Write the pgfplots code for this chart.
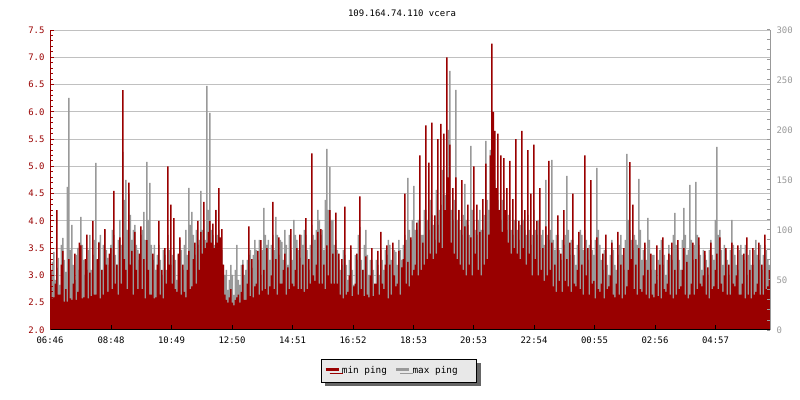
\documentclass[border=0pt]{standalone}
\usepackage{fontspec}
\setmainfont{DejaVu Sans Mono}
\usepackage{pgfplots}
\usepackage{pgfplotstable}
\pgfplotsset{compat=1.18}
\usetikzlibrary{shadows}
\definecolor{minred}{HTML}{990000}
\definecolor{maxgray}{HTML}{999999}
\definecolor{gridgray}{HTML}{C0C0C0}
\definecolor{leggray}{HTML}{E8E8E8}
\definecolor{shadowgray}{HTML}{666666}
\pgfplotstableread{
x min max
0 3.10 55
3 2.58 68
6 2.60 78
9 2.85 50
12 4.20 62
15 2.65 72
18 2.65 45
21 3.20 85
24 3.45 92
27 2.52 70
30 2.75 58
33 2.52 143
36 3.30 232
39 2.58 80
42 2.55 105
45 2.85 65
48 3.40 50
51 2.55 75
54 2.70 82
57 3.60 60
60 3.55 113
63 2.58 85
66 2.60 70
69 3.30 55
72 3.75 60
75 2.58 80
78 3.05 95
81 2.62 60
84 4.00 75
87 2.65 90
90 2.65 167
93 3.30 70
96 3.60 88
99 2.58 95
102 3.10 60
105 2.65 85
108 3.85 100
111 3.20 80
114 2.70 72
117 3.40 65
120 3.50 85
123 2.75 100
126 4.55 95
129 2.85 75
132 3.20 65
135 2.65 90
138 3.70 110
141 2.85 85
144 6.40 178
147 3.30 130
150 3.10 150
153 2.75 100
156 4.70 137
159 3.20 115
162 3.45 90
165 2.65 100
168 3.80 105
171 3.10 85
174 2.75 80
177 3.40 70
180 3.90 95
183 2.75 100
186 3.30 118
189 2.58 90
192 3.65 168
195 3.10 110
198 2.65 147
201 2.65 85
204 3.40 70
207 2.58 85
210 2.60 60
213 3.20 75
216 4.00 85
219 2.65 70
222 3.10 55
225 2.58 80
228 3.50 75
231 2.85 60
234 5.00 95
237 3.20 80
240 4.30 65
243 2.85 75
246 4.05 80
249 2.75 70
252 2.70 50
255 3.40 75
258 3.70 90
261 2.65 80
264 3.20 60
267 2.70 85
270 2.60 100
273 3.10 75
276 3.45 142
279 2.75 105
282 2.80 118
285 3.30 95
288 3.60 75
291 2.85 100
294 4.00 85
297 3.10 90
300 3.80 139
303 3.40 100
306 4.35 110
309 3.50 90
312 3.60 244
315 3.80 120
318 4.00 217
321 3.60 100
324 3.95 95
327 3.50 85
330 4.20 120
333 3.60 95
336 4.60 100
339 3.70 85
342 3.85 80
345 3.20 65
348 2.65 55
351 2.55 60
354 2.50 40
357 2.60 50
360 2.75 65
363 2.50 55
366 2.45 35
369 2.55 60
372 2.60 85
375 2.65 50
378 2.50 45
381 2.70 65
384 3.20 70
387 2.55 55
390 2.55 60
393 2.85 70
396 3.90 75
399 2.62 80
402 3.30 62
405 2.60 75
408 2.80 90
411 2.85 80
414 3.45 70
417 2.65 90
420 3.65 55
423 2.72 80
426 3.10 122
429 2.75 95
432 3.50 85
435 2.65 90
438 2.80 70
441 3.00 85
444 4.35 95
447 2.75 80
450 3.30 113
453 2.65 95
456 3.70 75
459 2.85 90
462 2.85 88
465 3.10 70
468 3.40 100
471 2.65 85
474 3.15 65
477 2.75 95
480 3.85 80
483 2.85 70
486 2.80 110
489 3.10 95
492 3.50 90
495 2.75 80
498 3.75 72
501 2.75 95
504 3.20 85
507 2.70 100
510 4.05 95
513 2.75 80
516 3.30 60
519 2.85 85
522 5.24 105
525 3.00 95
528 2.90 90
531 3.20 100
534 3.80 120
537 2.85 110
540 3.85 95
543 2.85 100
546 3.20 80
549 2.75 130
552 3.55 181
555 3.00 120
558 4.20 163
561 2.85 110
564 3.40 110
567 2.85 85
570 4.15 90
573 2.85 80
576 3.40 70
579 2.65 60
582 3.30 65
585 2.58 80
588 4.26 75
591 2.65 65
594 2.70 50
597 3.00 70
600 3.55 80
603 2.62 60
606 2.80 45
609 2.85 75
612 3.40 70
615 2.65 95
618 4.45 103
621 2.75 70
624 3.10 60
627 2.62 85
630 3.35 100
633 2.65 75
636 2.60 55
639 3.00 70
642 3.50 70
645 2.62 60
648 2.85 40
651 2.85 70
654 3.45 65
657 2.65 55
660 3.80 80
663 2.85 70
666 2.75 60
669 3.20 80
672 3.55 75
675 2.58 90
678 3.20 85
681 2.65 70
684 3.60 55
687 3.00 80
690 2.80 78
693 2.85 65
696 3.45 90
699 2.65 80
702 3.15 70
705 3.30 85
708 4.50 95
711 2.85 90
714 3.25 152
717 2.80 100
720 3.70 90
723 3.00 110
726 3.10 144
729 3.20 100
732 3.97 100
735 3.00 110
738 5.20 110
741 3.10 95
744 3.60 95
747 3.20 120
750 5.75 120
753 3.30 110
756 5.07 100
759 3.40 130
762 5.80 115
765 3.30 105
768 4.10 90
771 3.40 140
774 5.50 105
777 3.60 120
780 5.78 125
783 3.50 160
786 5.60 100
789 4.20 135
792 7.00 130
795 4.80 200
798 5.40 259
801 3.60 120
804 4.60 110
807 3.40 130
810 4.80 240
813 3.30 110
816 4.20 120
819 3.20 100
822 4.75 95
825 3.10 115
828 3.90 146
831 3.00 110
834 4.30 105
837 3.20 95
840 3.70 184
843 3.00 120
846 5.00 110
849 3.40 100
852 4.30 95
855 3.10 110
858 3.80 120
861 3.00 100
864 4.40 100
867 3.20 115
870 5.05 189
873 3.30 130
876 3.75 120
879 5.20 180
882 7.25 205
885 6.00 175
888 5.65 150
891 4.60 130
894 5.60 130
897 4.20 120
900 5.20 110
903 3.80 130
906 5.15 140
909 4.20 110
912 4.60 100
915 3.60 115
918 5.10 120
921 3.40 100
924 4.40 95
927 3.50 110
930 5.50 110
933 3.40 100
936 4.00 90
939 3.30 105
942 5.65 130
945 3.50 110
948 4.20 100
951 3.20 95
954 5.30 115
957 3.40 100
960 4.50 85
963 3.00 95
966 5.40 120
969 3.30 100
972 4.00 95
975 3.00 110
978 4.60 80
981 3.10 95
984 3.50 100
987 2.90 85
990 3.90 150
993 3.00 95
996 5.10 90
999 3.10 100
1002 3.60 170
1005 2.80 90
1008 3.20 80
1011 2.70 95
1014 4.10 95
1017 2.90 80
1020 3.40 70
1023 2.70 90
1026 4.20 85
1029 2.90 95
1032 3.30 154
1035 2.80 100
1038 3.60 75
1041 2.70 90
1044 4.50 90
1047 2.85 75
1050 2.80 65
1053 3.10 85
1056 3.80 80
1059 2.75 100
1062 3.20 95
1065 2.65 80
1068 5.20 100
1071 3.00 90
1074 3.50 70
1077 2.65 85
1080 4.75 90
1083 2.85 80
1086 2.90 75
1089 2.58 90
1092 3.70 162
1095 2.75 100
1098 2.70 85
1101 2.85 70
1104 3.40 60
1107 2.58 80
1110 3.75 80
1113 2.75 65
1116 2.80 55
1119 3.00 75
1122 3.60 90
1125 2.65 80
1128 2.60 65
1131 2.85 60
1134 3.80 75
1137 2.65 85
1140 3.20 95
1143 2.58 75
1146 3.50 60
1149 2.65 90
1152 2.80 176
1155 3.10 110
1158 5.08 100
1161 3.30 90
1164 4.30 80
1167 2.75 95
1170 3.20 90
1173 2.65 85
1176 3.50 151
1179 2.75 100
1182 2.70 70
1185 3.00 80
1188 3.60 85
1191 2.65 70
1194 3.10 112
1197 2.58 90
1200 3.40 60
1203 2.65 75
1206 2.60 75
1209 2.85 60
1212 3.55 50
1215 2.62 70
1218 3.20 80
1221 2.58 90
1224 3.70 65
1227 2.75 75
1230 2.70 55
1233 2.85 70
1236 3.40 85
1239 2.65 75
1242 3.60 70
1245 2.58 95
1248 3.10 117
1251 2.65 85
1254 3.65 80
1257 2.75 70
1260 2.80 60
1263 3.10 90
1266 3.50 122
1269 2.65 95
1272 3.25 75
1275 2.58 80
1278 2.65 145
1281 2.85 90
1284 3.60 70
1287 2.65 85
1290 3.30 148
1293 2.75 95
1296 3.70 85
1299 2.85 75
1302 2.80 60
1305 3.00 80
1308 3.45 75
1311 2.65 70
1314 3.15 55
1317 2.58 80
1320 3.60 90
1323 2.75 75
1326 2.80 70
1329 3.10 110
1332 3.40 183
1335 2.75 95
1338 3.70 100
1341 2.85 80
1344 2.70 65
1347 3.00 85
1350 3.50 80
1353 2.65 70
1356 3.20 55
1359 2.65 80
1362 3.60 110
1365 2.85 85
1368 2.80 75
1371 3.00 65
1374 3.55 60
1377 2.65 80
1380 2.65 85
1383 2.85 75
1386 3.40 70
1389 2.58 85
1392 3.70 55
1395 2.65 75
1398 3.10 80
1401 2.58 65
1404 3.50 65
1407 2.65 80
1410 2.70 90
1413 2.85 75
1416 3.60 70
1419 2.65 85
1422 3.20 60
1425 2.65 75
1428 3.75 85
1431 2.75 80
1434 2.80 70
1437 3.10 65
1440 3.00 70
}\pingdata
\pgfplotsset{
  base/.style={scale only axis, width=720bp, height=300bp, at={(50bp,70bp)}, anchor=south west,
    xmin=0, xmax=1440, clip=true,
    /pgf/number format/assume math mode=true,
    every tick label/.append style={font=\fontsize{9}{10}\selectfont}},
  leftscale/.style={ymin=2, ymax=7.5},
  rightscale/.style={ymin=0, ymax=300},
}
\begin{document}
\begin{tikzpicture}
\useasboundingbox (0,0) rectangle (800bp,400bp);
% grid
\begin{axis}[base, leftscale, axis x line*=bottom, axis y line*=left,
  axis line style={draw=none}, tick style={draw=none},
  xtick=\empty, ytick={2,2.5,...,7.5}, yticklabels={},
  ymajorgrids, grid style={color=gridgray, line width=1bp}]
\end{axis}
% max ping (right scale)
\begin{axis}[base, rightscale, hide axis]
\addplot[const plot, fill=maxgray, draw=none] table[x=x, y=max] {\pingdata} \closedcycle;
\end{axis}
% min ping (left scale)
\begin{axis}[base, leftscale, hide axis]
\addplot[const plot, fill=minred, draw=none] table[x=x, y=min] {\pingdata} \closedcycle;
\end{axis}
% left and bottom axes
\begin{axis}[base, leftscale, axis x line*=bottom, axis y line*=left,
  x axis line style={black, line width=1bp, -},
  y axis line style={minred, line width=1bp, -},
  xtick={0,122,243,364,485,606,727,847,968,1089,1210,1331},
  xticklabels={06:46,08:48,10:49,12:50,14:51,16:52,18:53,20:53,22:54,00:55,02:56,04:57},
  xtick style={black, line width=1bp},
  ytick={2,2.5,...,7.5}, minor y tick num=4,
  ytick style={minred, line width=1bp},
  major tick length=4.5bp, minor tick length=2.7bp,
  yticklabel style={text=minred, xshift=-2bp, /pgf/number format/.cd, fixed, fixed zerofill, precision=1},
  xticklabel style={text=black, yshift=-3bp},
  legend style={at={(0.4847,-0.0967)}, anchor=north, legend columns=2, draw=black, fill=leggray,
    line width=0.8bp, font=\fontsize{9.4}{10}\selectfont, inner xsep=3bp, inner ysep=5bp,
    drop shadow={shadow xshift=4bp, shadow yshift=-4bp, fill=shadowgray, opacity=1},
    /tikz/every even column/.append style={column sep=6bp}},
  legend image code/.code={\draw[line width=2.6bp] (0bp,1.5bp) -- (13bp,1.5bp);}]
\addlegendimage{minred}
\addlegendentry{min ping}
\addlegendimage{maxgray}
\addlegendentry{max ping\rule{14bp}{0pt}}
\end{axis}
% right axis
\begin{axis}[base, rightscale, axis y line*=right, axis x line=none,
  y axis line style={maxgray, line width=1bp, -},
  ytick={0,50,...,300}, minor y tick num=4,
  ytick style={maxgray, line width=1bp},
  major tick length=3bp, minor tick length=3bp,
  yticklabel style={text=maxgray, xshift=3bp}]
\end{axis}
\node[font=\fontsize{9}{10}\selectfont] at (402bp,387bp) {109.164.74.110 vcera};
\end{tikzpicture}
\end{document}
